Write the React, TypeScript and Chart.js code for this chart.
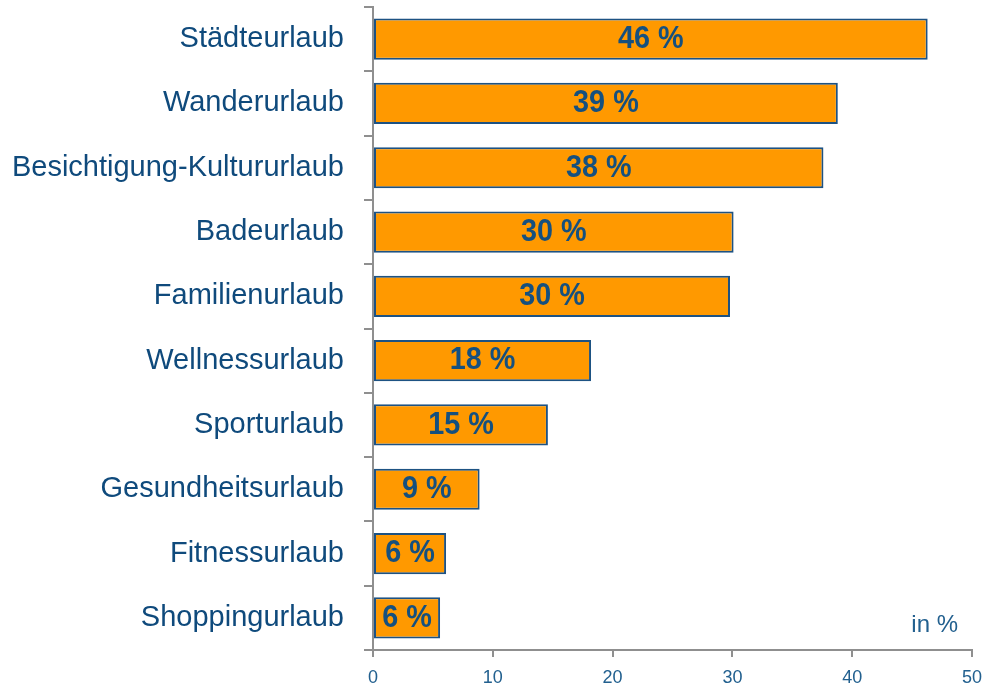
import React, { useEffect, useRef } from "react";
import { Chart, registerables } from "chart.js";

Chart.register(...registerables);

const categories = [
  "Städteurlaub",
  "Wanderurlaub",
  "Besichtigung-Kultururlaub",
  "Badeurlaub",
  "Familienurlaub",
  "Wellnessurlaub",
  "Sporturlaub",
  "Gesundheitsurlaub",
  "Fitnessurlaub",
  "Shoppingurlaub",
];
const values = [46.3, 38.8, 37.6, 30.1, 29.8, 18.2, 14.6, 8.9, 6.1, 5.6];
const valueLabels = ["46 %", "39 %", "38 %", "30 %", "30 %", "18 %", "15 %", "9 %", "6 %", "6 %"];
const unitLabel = "in %";

const BLUE = "#0f4a7c";
const TICK_BLUE = "#22608f";
const GRAY = "#8f8f8f";

const labelPlugin = {
  id: "barLabels",
  afterDatasetsDraw(chart: any) {
    const ctx = chart.ctx;
    const meta = chart.getDatasetMeta(0);
    ctx.save();
    ctx.fillStyle = "#15507f";
    ctx.font = "bold 32px 'Liberation Sans', Arial, sans-serif";
    ctx.textAlign = "center";
    ctx.textBaseline = "middle";
    const sx = 0.9;
    meta.data.forEach((bar: any, i: number) => {
      const cx = (bar.x + bar.base) / 2;
      ctx.save();
      ctx.translate(cx, bar.y);
      ctx.scale(sx, 1);
      ctx.fillText(valueLabels[i], 0, 0);
      ctx.restore();
    });
    const xs = chart.scales.x;
    ctx.font = "24px 'Liberation Sans', Arial, sans-serif";
    ctx.textAlign = "right";
    ctx.textBaseline = "alphabetic";
    ctx.fillStyle = TICK_BLUE;
    ctx.fillText(unitLabel, xs.getPixelForValue(50) - 14, chart.chartArea.bottom - 18);
    ctx.restore();
  },
};

export default function App() {
  const ref = useRef<HTMLCanvasElement>(null);
  useEffect(() => {
    if (!ref.current) return;
    const chart = new Chart(ref.current, {
      type: "bar",
      data: {
        labels: categories,
        datasets: [
          {
            data: values,
            backgroundColor: "#ff9900",
            borderColor: "#1d5283",
            borderWidth: 2,
            borderSkipped: false,
            barPercentage: 0.64,
            categoryPercentage: 1,
          },
        ],
      },
      options: {
        indexAxis: "y",
        responsive: false,
        animation: false,
        layout: { padding: { top: 7, right: 10, left: 0, bottom: 0 } },
        plugins: { legend: { display: false }, tooltip: { enabled: false } },
        scales: {
          x: {
            min: 0,
            max: 50,
            ticks: {
              stepSize: 10,
              color: TICK_BLUE,
              font: { family: "'Liberation Sans', Arial, sans-serif", size: 18 },
              padding: 10,
            },
            grid: {
              drawOnChartArea: false,
              drawTicks: true,
              tickLength: 7,
              color: GRAY,
              lineWidth: 2,
            },
            border: { display: true, color: GRAY, width: 2 },
            afterFit: (s: any) => {
              s.height = 36;
              s.paddingLeft = 0;
              s.paddingRight = 0;
            },
          },
          y: {
            ticks: {
              color: BLUE,
              font: { family: "'Liberation Sans', Arial, sans-serif", size: 29 },
              padding: 20,
            },
            grid: {
              drawOnChartArea: false,
              drawTicks: true,
              tickLength: 9,
              color: GRAY,
              lineWidth: 2,
              offset: true,
            },
            border: { display: true, color: GRAY, width: 2 },
            afterFit: (s: any) => {
              s.width = 373;
              s.paddingTop = 0;
              s.paddingBottom = 0;
            },
          },
        },
      },
      plugins: [labelPlugin],
    } as any);
    return () => chart.destroy();
  }, []);
  return (
    <div style={{ position: "fixed", left: 0, top: 0, width: 982, height: 686, background: "#fff" }}>
      <canvas ref={ref} width={982} height={686} />
    </div>
  );
}
